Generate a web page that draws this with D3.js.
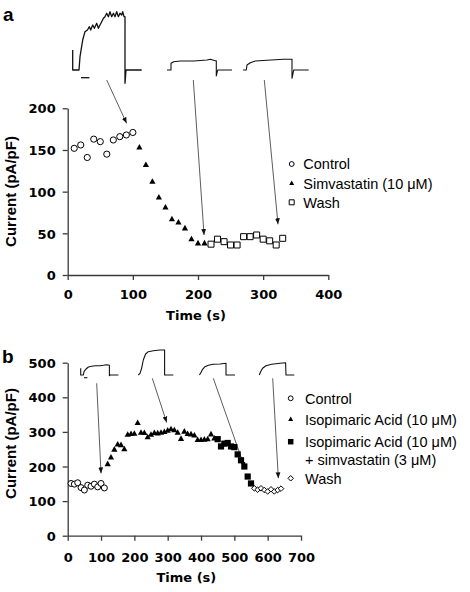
<!DOCTYPE html>
<html><head><meta charset="utf-8">
<script src="https://cdn.jsdelivr.net/npm/d3@7"></script>
<style>body{margin:0;background:#fff}svg{display:block}</style>
</head><body><svg id="c" width="470" height="592"></svg>
<script>
// ---------- Panel a data ----------
const timeA_control = [10,20,30,40,50,60,70,80,90,100];
const currA_control = [152,156,141,163,160,145,162,166,168,171];
const timeA_simva = [110,120,130,140,150,160,170,180,190,200,210];
const currA_simva = [153,132,112,93,81,67,63,56,43,38,38];
const timeA_wash = [220,230,240,250,260,270,280,290,300,310,320,330];
const currA_wash = [37,43,40,36,36,46,46,48,43,41,36,44];
const ticksA_x = [0,100,200,300,400];
const ticksA_y = [0,50,100,150,200];
const legendA = ["Control","Simvastatin (10 \u03bcM)","Wash"];

// ---------- Panel b data ----------
const timeB_control = [10,20,30,40,50,60,70,80,90,100,110];
const currB_control = [151,149,153,139,132,146,143,149,141,151,138];
const timeB_iso = [120,130,140,150,160,170,180,190,200,210,220,230,240,250,260,270,280,290,300,310,320,330,340,350,360,370,380,390,400,410,420,430,440];
const currB_iso = [207,226,249,264,262,250,292,294,295,326,298,297,285,292,297,296,298,300,304,308,305,298,280,301,294,293,290,277,277,278,279,293,281];
const timeB_isoSim = [450,460,470,480,490,500,510,520,530,540,550];
const currB_isoSim = [279,258,266,268,258,256,235,218,200,171,151];
const timeB_wash = [560,570,580,590,600,610,620,630,640];
const currB_wash = [137,133,137,132,128,134,128,132,136];
const ticksB_x = [0,100,200,300,400,500,600,700];
const ticksB_y = [0,100,200,300,400,500];
const legendB = ["Control","Isopimaric Acid (10 \u03bcM)","Isopimaric Acid (10 \u03bcM)","+ simvastatin (3 \u03bcM)","Wash"];

// ---------- current-trace insets (time, current) in arbitrary units ----------
const traceA1 = [[0,20],[0,0],[6.3,0],[7.3,13.3],[10,30],[12.3,38.3],[14.7,40],[16.7,43.3],[18,40],[20,45],[21.7,41.7],[24,46.7],[25.7,41.7],[27.3,45],[29,48.3],[30.7,51.7],[32.3,53.3],[34,56.7],[35.7,53.3],[37.3,58.3],[39,53.3],[40.7,56.7],[42.3,53.3],[44,58.3],[45.7,53.3],[47.3,56.7],[49,55],[50,58.3],[51.3,53.3],[52.3,53.3],[52.3,-13.3],[53.3,0],[69,0]];
const barA1 = [[8.3,-7.7],[16.7,-7.7]];
const traceA2 = [[0,0],[4,0],[4,6.7],[6.7,8.3],[13.3,9],[26.7,9],[40,10],[43.3,10.7],[48.3,9.3],[49.3,9.3],[49.3,-6],[50.7,0],[65,0]];
const traceA3 = [[0,0],[3.3,0],[4,5],[7.3,7.3],[12.3,9],[24,9.7],[40.7,10.7],[49,10.7],[49,-8.3],[50.7,0],[65.7,0]];
const traceB1 = [[0,6.7],[0,0],[2.7,0],[3.3,3.3],[5.3,6],[7.7,8],[11,8.7],[14.3,9.3],[19.3,9.3],[22.7,9.7],[26,10.3],[28.7,9.7],[28.7,-0.7],[29.5,0],[37.7,0]];
const barB1 = [[3.3,-2.7],[6.7,-2.7]];
const traceB2 = [[0,0],[1.7,1.7],[3.3,6.7],[5,15],[7.3,21],[10,23.3],[15,24.3],[21.7,25],[26.3,25],[26.3,0],[35,0]];
const traceB3 = [[0,0],[1.3,1.7],[3.3,5.7],[5.7,8.3],[9,9.7],[14,10.7],[20.7,11],[26.7,11.7],[26.7,0],[35.7,0]];
const traceB4 = [[0,0],[1.3,3.3],[3.3,6.7],[6.7,9.3],[12.3,10.7],[20.7,11.7],[26.3,12.3],[26.7,0],[35,0]];

// arrow targets in data coordinates [time, current]
const arrowTipsA = [[90.4,182],[209.3,48],[322.8,60.8]];
const arrowTipsB = [[100,180],[297,327],[532,195],[632,166]];

const svg = d3.select("#c");
const BLACK = "#000";
const AX = "#3a3a3a";
const tickFont = "'DejaVu Sans', sans-serif";

// arrow marker
svg.append("defs").append("marker")
  .attr("id","ah").attr("viewBox","0 0 10 10").attr("refX",10).attr("refY",5)
  .attr("markerWidth",6).attr("markerHeight",6).attr("markerUnits","userSpaceOnUse")
  .attr("orient","auto")
  .append("path").attr("d","M0,1 L10,5 L0,9 Z").attr("fill","#111");

function styleAxis(g){
  g.selectAll("path.domain").attr("stroke",AX).attr("stroke-width",1.3);
  g.selectAll(".tick line").attr("stroke",AX).attr("stroke-width",1.3);
  g.selectAll(".tick text").attr("fill",BLACK).style("font-family",tickFont)
    .style("font-weight","bold").style("font-size","13px");
}

function drawAxes(x, y, tx, ty, xPad){
  const gx = svg.append("g").attr("transform",`translate(0,${y.range()[0]})`)
    .call(d3.axisBottom(x).tickValues(tx).tickFormat(d3.format("d")).tickSize(5).tickSizeOuter(0).tickPadding(xPad));
  styleAxis(gx);
  const gy = svg.append("g").attr("transform",`translate(${x.range()[0]},0)`)
    .call(d3.axisLeft(y).tickValues(ty).tickFormat(d3.format("d")).tickSize(5).tickSizeOuter(0).tickPadding(7));
  styleAxis(gy);
  gy.selectAll(".tick text").attr("dy","0.36em");
}

function triPath(s){ const h=s*0.9; return `M0,${-h*0.62}L${s/2},${h*0.38}L${-s/2},${h*0.38}Z`; }
function sqPath(s){ return `M${-s/2},${-s/2}h${s}v${s}h${-s}Z`; }
function diaPath(s){ return `M0,${-s/2}L${s/2},0L0,${s/2}L${-s/2},0Z`; }

function plotSeries(x, y, xs, ys, kind, size){
  const g = svg.append("g");
  const pts = xs.map((d,i)=>[d,ys[i]]);
  const sel = g.selectAll("path").data(pts).join("path")
    .attr("transform",d=>`translate(${x(d[0])},${y(d[1])})`);
  if(kind==="circle") sel.attr("d",d3.symbol(d3.symbolCircle, Math.PI*size*size)()).attr("fill","#fff").attr("stroke",BLACK).attr("stroke-width",1);
  if(kind==="tri") sel.attr("d",triPath(size)).attr("fill",BLACK);
  if(kind==="sq") sel.attr("d",sqPath(size)).attr("fill","#fff").attr("stroke",BLACK).attr("stroke-width",1);
  if(kind==="fsq") sel.attr("d",sqPath(size)).attr("fill",BLACK);
  if(kind==="dia") sel.attr("d",diaPath(size)).attr("fill","#fff").attr("stroke",BLACK).attr("stroke-width",1);
}

function legendMarker(cx, cy, kind){
  const p = svg.append("path").attr("transform",`translate(${cx},${cy})`);
  if(kind==="circle") p.attr("d",d3.symbol(d3.symbolCircle, Math.PI*2.4*2.4)()).attr("fill","#fff").attr("stroke",BLACK).attr("stroke-width",1);
  if(kind==="tri") p.attr("d",triPath(5)).attr("fill",BLACK);
  if(kind==="sq") p.attr("d",sqPath(5)).attr("fill","#fff").attr("stroke",BLACK).attr("stroke-width",1);
  if(kind==="fsq") p.attr("d",sqPath(5.5)).attr("fill",BLACK);
  if(kind==="dia") p.attr("d",diaPath(5.5)).attr("fill","#fff").attr("stroke",BLACK).attr("stroke-width",1);
}

function legendText(x, yc, txt){
  svg.append("text").attr("x",x).attr("y",yc).attr("dy","0.36em")
    .style("font-family","'Liberation Sans', Arial, sans-serif").style("font-size","14.5px")
    .attr("fill",BLACK).text(txt);
}

function drawTrace(pts, ox, oy, sw){
  const tx = d3.scaleLinear().domain([0,1]).range([ox, ox+1]);
  const ty = d3.scaleLinear().domain([0,1]).range([oy, oy-1]);
  svg.append("path").datum(pts)
    .attr("d", d3.line().x(d=>tx(d[0])).y(d=>ty(d[1])))
    .attr("fill","none").attr("stroke","#111").attr("stroke-width",sw||1.2).attr("stroke-linejoin","round");
}

function arrow(x1,y1,x2,y2){
  svg.append("line").attr("x1",x1).attr("y1",y1).attr("x2",x2).attr("y2",y2)
    .attr("stroke","#333").attr("stroke-width",0.8).attr("marker-end","url(#ah)");
}

function yTitle(cx, cy){
  svg.append("text").attr("transform",`translate(${cx},${cy}) rotate(-90)`)
    .attr("text-anchor","middle")
    .style("font-family","'Liberation Sans', Arial, sans-serif").style("font-weight","bold").style("font-size","15px")
    .attr("fill",BLACK).text("Current (pA/pF)");
}
function xTitle(cx, by){
  svg.append("text").attr("x",cx).attr("y",by).attr("text-anchor","middle")
    .style("font-family",tickFont).style("font-weight","bold").style("font-size","13px")
    .attr("fill",BLACK).text("Time (s)");
}
function panelLabel(x, by, t){
  svg.append("text").attr("x",x).attr("y",by)
    .style("font-family","'Liberation Sans', Arial, sans-serif").style("font-weight","bold").style("font-size","19px")
    .attr("fill",BLACK).text(t);
}

// ================= Panel a =================
const xA = d3.scaleLinear().domain([0,400]).range([67.7,328.3]);
const yA = d3.scaleLinear().domain([0,200]).range([275,108.3]);
panelLabel(3, 21, "a");
drawAxes(xA, yA, ticksA_x, ticksA_y, 10);
yTitle(15.5, 191.5);
xTitle(xA(200)-2, 320);

drawTrace(traceA1, 72.7, 70, 1.3);
drawTrace(barA1, 72.7, 70, 1.3);
drawTrace(traceA2, 167, 70, 1.1);
drawTrace(traceA3, 243, 70, 1.1);

arrow(106.7, 80, xA(arrowTipsA[0][0]), yA(arrowTipsA[0][1]));
arrow(193.3, 80, xA(arrowTipsA[1][0]), yA(arrowTipsA[1][1]));
arrow(264.3, 80, xA(arrowTipsA[2][0]), yA(arrowTipsA[2][1]));

plotSeries(xA, yA, timeA_control, currA_control, "circle", 3.1);
plotSeries(xA, yA, timeA_simva, currA_simva, "tri", 6.2);
plotSeries(xA, yA, timeA_wash, currA_wash, "sq", 6);

const legKindsA = ["circle","tri","sq"];
const legYA = [164, 183.3, 202.3];
legendA.forEach((t,i)=>{ legendMarker(291.7, legYA[i], legKindsA[i]); legendText(303.3, legYA[i], t); });

// ================= Panel b =================
const xB = d3.scaleLinear().domain([0,700]).range([67.7,301]);
const yB = d3.scaleLinear().domain([0,500]).range([535.7,362.7]);
panelLabel(2, 362.5, "b");
drawAxes(xB, yB, ticksB_x, ticksB_y, 12);
yTitle(15.5, 443.5);
xTitle(xB(350)+2, 582.3);

drawTrace(traceB1, 80.7, 375, 1.1);
drawTrace(barB1, 80.7, 375, 1.1);
drawTrace(traceB2, 138.3, 375, 1.1);
drawTrace(traceB3, 199.3, 375, 1.1);
drawTrace(traceB4, 259.3, 375, 1.1);

arrow(96.7, 383.3, xB(arrowTipsB[0][0]), yB(arrowTipsB[0][1]));
arrow(152.3, 378.3, xB(arrowTipsB[1][0]), yB(arrowTipsB[1][1]));
arrow(213.3, 378.3, xB(arrowTipsB[2][0]), yB(arrowTipsB[2][1]));
arrow(272.7, 378.3, xB(arrowTipsB[3][0]), yB(arrowTipsB[3][1]));

plotSeries(xB, yB, timeB_control, currB_control, "circle", 3);
plotSeries(xB, yB, timeB_iso, currB_iso, "tri", 6.2);
plotSeries(xB, yB, timeB_isoSim, currB_isoSim, "fsq", 6.2);
plotSeries(xB, yB, timeB_wash, currB_wash, "dia", 5.6);

const legKindsB = ["circle","tri","fsq",null,"dia"];
const legYB = [398.3, 419.3, 441.7, 459.3, 478.3];
legendB.forEach((t,i)=>{ if(legKindsB[i]) legendMarker(290.7, legYB[i], legKindsB[i]); legendText(305, legYB[i], t); });
</script>
</body></html>
